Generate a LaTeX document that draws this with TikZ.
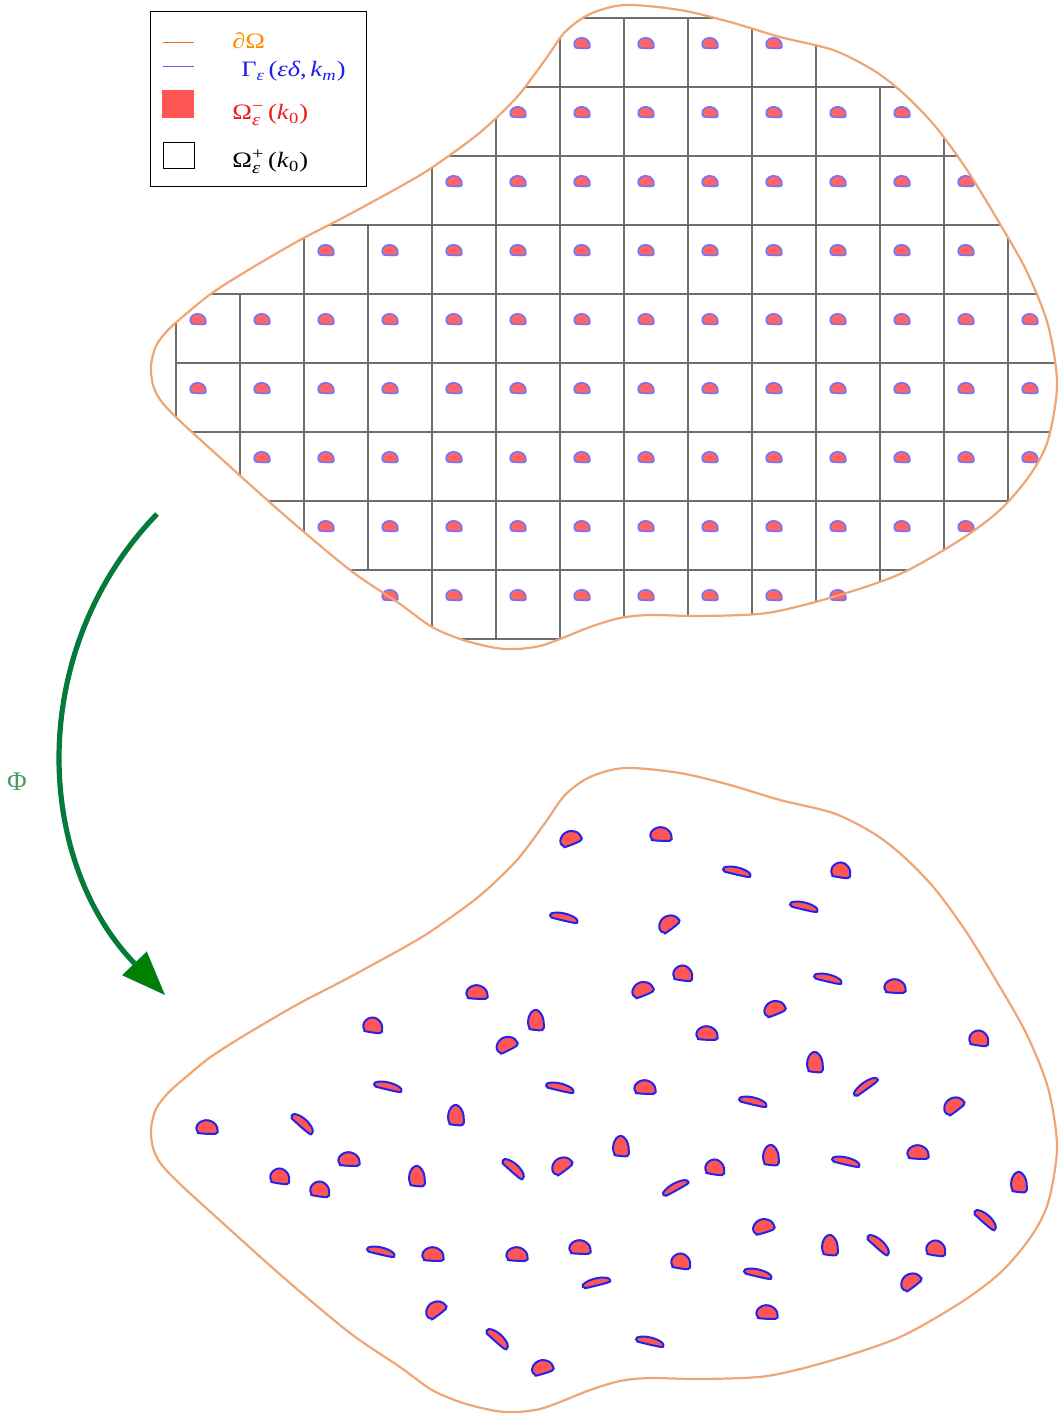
\documentclass[tikz,border=0pt]{standalone}
\usepackage{fontspec}
\setmainfont{Liberation Serif}
\newfontfamily\legendfont{Liberation Serif}[FakeStretch=1.2]
\usetikzlibrary{arrows.meta}
\definecolor{bdry}{RGB}{240,166,116}
\definecolor{inclfill}{RGB}{255,85,85}
\definecolor{incltopfill}{RGB}{255,100,100}
\definecolor{inclborder}{RGB}{35,35,235}
\definecolor{incltopborder}{RGB}{115,115,255}
\definecolor{gridgray}{RGB}{110,110,110}
\definecolor{phigreen}{RGB}{5,122,58}
\definecolor{phitip}{RGB}{0,128,0}
\definecolor{philab}{RGB}{80,155,100}
\definecolor{legorange}{RGB}{232,112,40}
\definecolor{labelorange}{RGB}{255,140,0}
\definecolor{legblue}{RGB}{95,95,255}
\definecolor{labelblue}{RGB}{30,30,235}
\definecolor{labelred}{RGB}{240,25,25}

\newcommand\domaincurve[1]{#1 plot[smooth cycle] coordinates {(151,366) (156,346) (168,330) (186,314) (212,293) (250,269) (300,240) (350,214) (417,177) (450,155) (483,130) (517,97) (545,60) (565,32) (590,14) (625,5) (680,10) (730,22) (780,37) (833,50) (873,70) (903,93) (935,126) (967,170) (1000,224) (1027,272) (1048,325) (1057,384) (1048,440) (1030,475) (1000,510) (960,540) (900,574) (833,597) (767,613) (700,616) (650,615) (620,618) (590,627) (560,639) (540,646) (517,649) (496,648) (463,640) (432,627) (400,604) (350,570) (283,514) (215,453) (180,421) (161,401) (153,385)};}

\newcommand\inclusion[6]{\filldraw[#1,shift={({#2},{#3})},rotate=#4,xscale=#5,yscale=#6] plot[smooth cycle,tension=0.6] coordinates {(-7,6) (8,6.5) (10,3) (8.5,-2) (4,-5.5) (-1,-6.5) (-6,-5) (-9.5,-1.5) (-10,2.5) (-8.5,5)};}
\newcommand\inclU[2]{\inclusion{inclB}{#1}{#2}{0}{1.05}{1.05}}
\newcommand\inclR[2]{\inclusion{inclB}{#1}{#2}{-5}{0.95}{1.15}}
\newcommand\inclT[3]{\inclusion{inclB}{#1}{#2}{#3}{1.05}{1.05}}
\newcommand\inclTall[2]{\inclusion{inclB}{#1}{#2}{0}{0.78}{1.55}}
\newcommand\inclL[3]{\inclusion{inclB}{#1}{#2}{#3}{1.4}{0.55}}
\newcommand\inclLf[3]{\inclusion{inclB}{#1}{#2}{#3}{1.35}{0.65}}
\newcommand\supsub[3]{$\hbox{#1}^{\hbox{\legendfont\fontsize{8.5}{10}\selectfont #2}}_{\hbox{\legendfont\fontsize{8.5}{10}\selectfont\itshape #3}}$}

\begin{document}
\begin{tikzpicture}[x=0.5pt,y=-0.5pt,
  every node/.style={inner sep=0pt},
  legtext/.style={font=\legendfont\fontsize{11}{13}\selectfont, anchor=base west},
  bdryline/.style={draw=bdry, line width=1.1pt},
  gridline/.style={draw=gridgray, line width=0.6pt},
  inclA/.style={fill=incltopfill, draw=incltopborder, line width=0.8pt},
  inclB/.style={fill=inclfill, draw=inclborder, line width=1pt},
  phiarrow/.style={draw=phigreen, line width=2.6pt, -{Triangle[length=22pt,width=17pt,fill=phitip,line width=0.6pt]}}]
\useasboundingbox (0,0) rectangle (1060,1416);

% ---------- top domain: periodic cells ----------
\begin{scope}
  \domaincurve{\clip}
  \foreach \r/\a/\b in {0/6/9,1/5/11,2/4/12,3/2/12,4/0/13,5/0/13,6/1/13,7/2/12,8/4/10}
    {\foreach \c in {\a,...,\b}
      {\draw[gridline] ({176+64*\c},{18+69*\r}) rectangle ++(64,69);}}
\end{scope}
\foreach \r/\a/\b in {0/6/9,1/5/11,2/4/12,3/2/12,4/0/13,5/0/13,6/1/13,7/2/12,8/3/10}
  {\foreach \c in {\a,...,\b}
    {\inclusion{inclA}{198+64*\c}{43+69*\r}{0}{0.78}{0.82}}}
\domaincurve{\draw[bdryline]}

% ---------- bottom domain: deformed ----------
\begin{scope}[shift={(0,763)}]
  \domaincurve{\draw[bdryline]}
\end{scope}
\inclT{570}{838}{25}
\inclL{564}{917}{-12}
\inclU{477}{992}
\inclTall{536}{1020}
\inclT{506}{1044}{30}
\inclR{373}{1025}
\inclL{388}{1086}{-12}
\inclL{560}{1087}{-12}
\inclU{661}{834}
\inclL{737}{871}{-12}
\inclR{841}{870}
\inclL{804}{906}{-12}
\inclT{668}{923}{40}
\inclR{683}{973}
\inclT{642}{989}{25}
\inclL{828}{978}{-12}
\inclU{895}{986}
\inclT{774}{1008}{25}
\inclU{707}{1033}
\inclR{979}{1038}
\inclTall{815}{1062}
\inclU{645}{1087}
\inclL{865}{1086}{37}
\inclU{207}{1127}
\inclLf{303}{1123}{-40}
\inclTall{456}{1115}
\inclU{349}{1159}
\inclR{280}{1176}
\inclR{320}{1189}
\inclTall{417}{1176}
\inclLf{514}{1168}{-40}
\inclT{561}{1165}{40}
\inclL{381}{1251}{-12}
\inclU{433}{1254}
\inclU{517}{1254}
\inclU{580}{1247}
\inclL{596}{1282}{15}
\inclT{435}{1309}{40}
\inclLf{498}{1338}{-40}
\inclT{542}{1367}{20}
\inclL{753}{1101}{-12}
\inclT{953}{1105}{40}
\inclTall{621}{1146}
\inclR{715}{1167}
\inclTall{771}{1155}
\inclL{846}{1161}{-12}
\inclU{918}{1152}
\inclTall{1019}{1182}
\inclL{675}{1187}{30}
\inclT{763}{1226}{20}
\inclTall{830}{1245}
\inclLf{879}{1244}{-40}
\inclR{936}{1248}
\inclLf{986}{1219}{-40}
\inclR{681}{1261}
\inclL{758}{1273}{-12}
\inclT{910}{1281}{40}
\inclU{767}{1312}
\inclL{650}{1341}{-12}

% ---------- map Phi ----------
\coordinate (phistart) at (157,514);
\coordinate (phiend) at (165,995);
\draw[phiarrow] (phistart) to[out=226,in=134] (phiend);
\node[text=philab, font=\fontsize{13.5}{15}\selectfont] (philabel) at (17,782) {Φ};

% ---------- legend ----------
\draw[black, line width=0.5pt] (150,12) rectangle (366,187);
\draw[legorange, line width=0.8pt] (163,42.5) -- (194,42.5);
\draw[legblue, line width=0.8pt] (163,66.5) -- (194,66.5);
\fill[inclfill] (162,90) rectangle (194,118);
\draw[black, line width=0.5pt] (163,143) rectangle (194,169);
\node[legtext, text=labelorange] (labbd) at (232,49) {∂Ω};
\node[legtext, text=labelblue] (labgamma) at (241,77) {Γ\textsubscript{\textit{ε}}\,(\textit{εδ},\,\textit{k}\textsubscript{\textit{m}})};
\node[legtext, text=labelred] (labminus) at (232,120) {\supsub{Ω}{−}{ε}\,(\textit{k}\textsubscript{0})};
\node[legtext, text=black] (labplus) at (232,168) {\supsub{Ω}{+}{ε}\,(\textit{k}\textsubscript{0})};
\end{tikzpicture}
\end{document}
